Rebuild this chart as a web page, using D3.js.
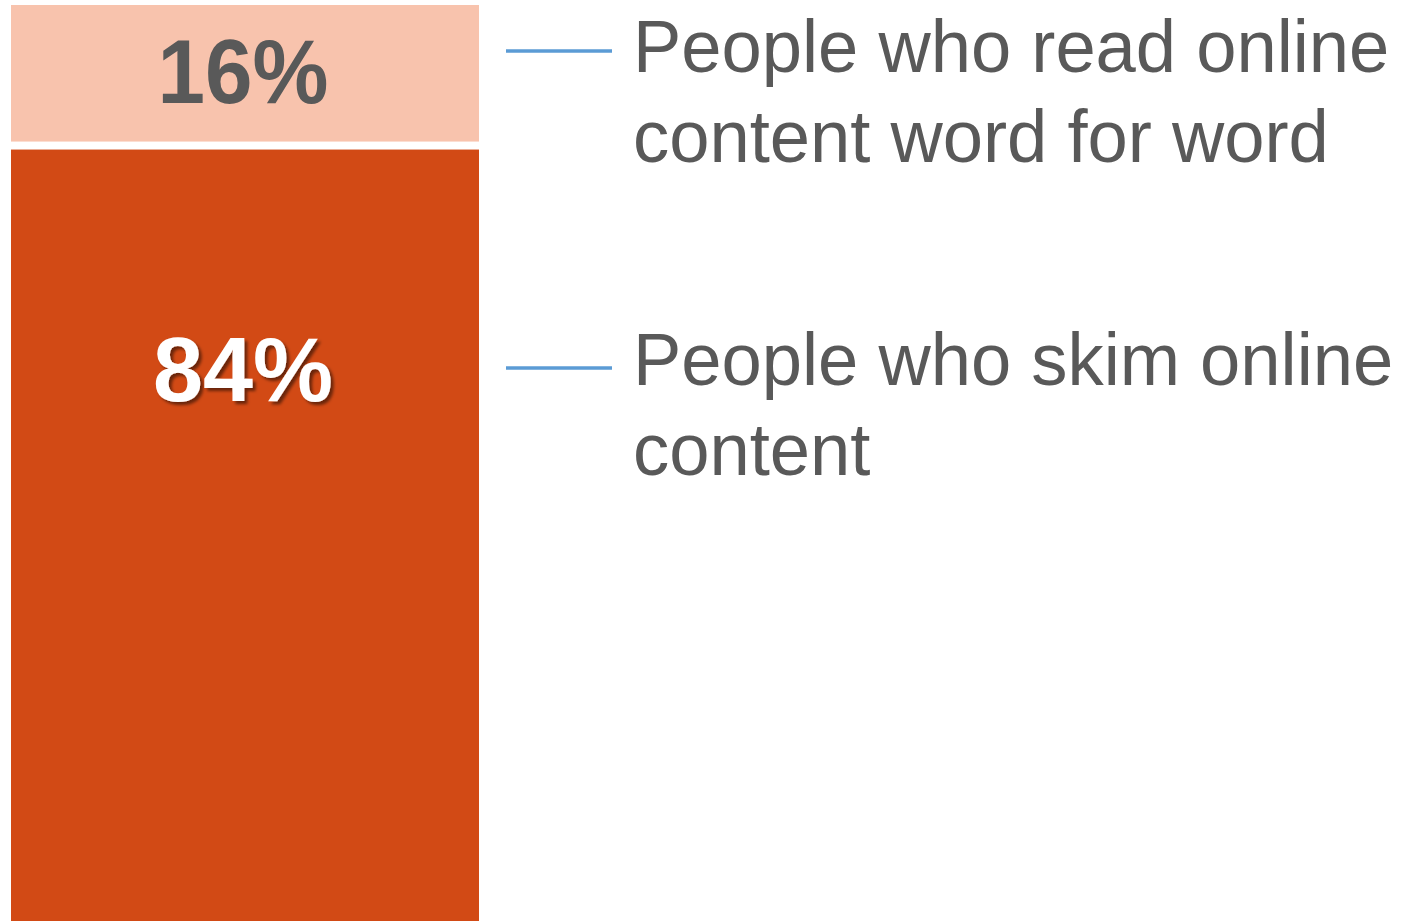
<!DOCTYPE html>
<meta charset="utf-8">
<script src="https://d3js.org/d3.v7.min.js"></script>
<style>
  body { margin: 0; background: #fff; }
  text { font-family: "Liberation Sans", Arial, sans-serif; }
</style>
<div id="chart"></div>
<script>
    // data
    const segments = ["skim", "read"];
    const values = [84, 16];
    const valueLabels = ["84%", "16%"];
    const legendLines = [
        ["People who skim online", "content"],
        ["People who read online", "content word for word"]
    ];
    const colors = ["#d24a15", "#f8c3ad"];
    const labelColors = ["#ffffff", "#595959"];

    var width = 1401, height = 921;

    var svg = d3.select("#chart")
        .append("svg")
            .attr("width", width)
            .attr("height", height);

    var defs = svg.append("defs");
    var shadow = defs.append("filter").attr("id", "shadow")
        .attr("x", "-10%").attr("y", "-10%").attr("width", "130%").attr("height", "130%");
    shadow.append("feDropShadow")
        .attr("dx", 3).attr("dy", 3).attr("stdDeviation", 1.5)
        .attr("flood-color", "#000").attr("flood-opacity", 0.5);

    // stack
    var rows = [{}];
    segments.forEach((s, i) => rows[0][s] = values[i]);
    var stacked = d3.stack().keys(segments)(rows);

    var x = d3.scaleBand().domain(["bar"]).range([11, 479]).padding(0);
    var y = d3.scaleLinear().domain([0, 100]).range([921, 5]);
    const gap = 8;

    var g = svg.append("g");
    g.selectAll("rect")
        .data(stacked)
        .enter().append("rect")
            .attr("x", x("bar"))
            .attr("width", x.bandwidth())
            .attr("y", (d, i) => y(d[0][1]) + (i === 0 ? -2 : 0))
            .attr("height", (d, i) => y(d[0][0]) - y(d[0][1]) + (i === 0 ? 2 : -(gap + 2)))
            .attr("fill", (d, i) => colors[i]);

    // value labels
    const labelBase = [401, 103];
    const labelWidths = [180, 171];
    g.selectAll("text.val")
        .data(stacked)
        .enter().append("text")
            .attr("class", "val")
            .attr("x", (d, i) => 243 - labelWidths[i] / 2)
            .attr("y", (d, i) => labelBase[i])
            .attr("font-size", 91)
            .attr("font-weight", "bold")
            .attr("fill", (d, i) => labelColors[i])
            .attr("textLength", (d, i) => labelWidths[i])
            .attr("lengthAdjust", "spacingAndGlyphs")
            .attr("filter", (d, i) => i === 0 ? "url(#shadow)" : null)
            .text((d, i) => valueLabels[i]);

    // legend
    const legendY = [368, 51];
    const baseY = [385, 72];
    const lineGap = 90;
    const squeeze = 0.965; // legend text is a bit condensed
    var leg = svg.selectAll("g.leg")
        .data(segments)
        .enter().append("g")
            .attr("class", "leg");
    leg.append("line")
        .attr("x1", 506).attr("x2", 612)
        .attr("y1", (d, i) => legendY[i]).attr("y2", (d, i) => legendY[i])
        .attr("stroke", "#5b9bd5").attr("stroke-width", 3.5);
    leg.each(function(d, i) {
        var t = d3.select(this);
        legendLines[i].forEach((ln, j) => {
            t.append("text")
                .attr("transform", "translate(633," + (baseY[i] + j * lineGap) + ") scale(" + squeeze + ",1)")
                .attr("font-size", 75)
                .attr("fill", "#595959")
                .text(ln);
        });
    });
</script>
